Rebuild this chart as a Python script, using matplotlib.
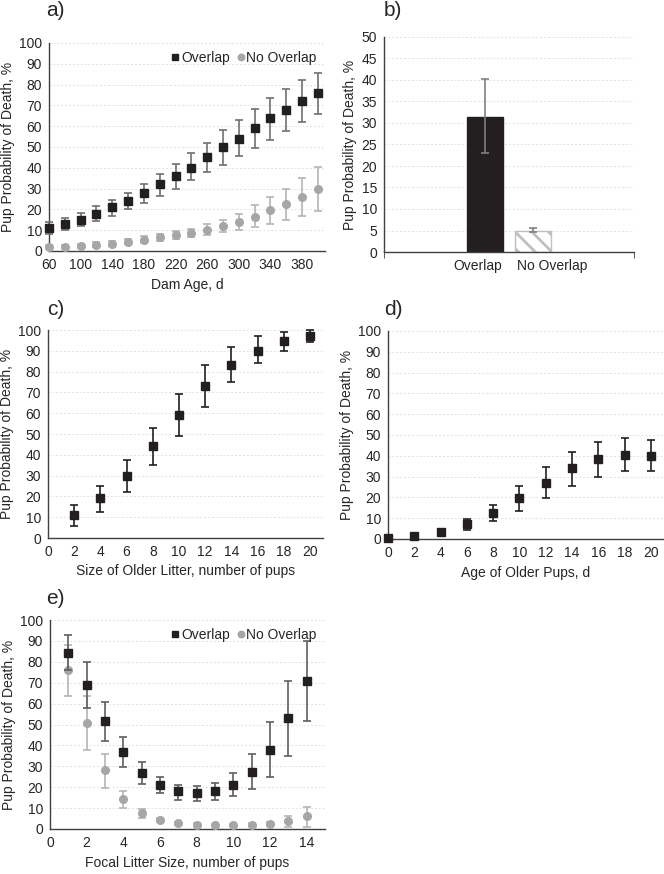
import numpy as np
import matplotlib
matplotlib.use("Agg")
import matplotlib.pyplot as plt

plt.rcParams['font.family'] = ['Liberation Sans', 'DejaVu Sans']
plt.rcParams['font.size'] = 10
plt.rcParams['hatch.linewidth'] = 2.0

# ---- data ----
# a) dam age
dam_age = [60, 80, 100, 120, 140, 160, 180, 200, 220, 240, 260, 280, 300, 320, 340, 360, 380, 400]
a_ov = [11, 13, 15, 18, 21, 24, 28, 32, 36, 40, 45, 50, 54, 59, 64, 68, 72, 76]
a_ov_lo = [8, 10, 12, 14.5, 17, 20, 23, 26.5, 30, 34, 38, 41.5, 45.5, 49.5, 53.5, 57.5, 62, 66]
a_ov_hi = [14, 16, 18.5, 21.5, 24.5, 28, 32, 37, 42, 47, 52, 58, 63, 68.5, 73.5, 78, 82, 85.5]
a_no = [2, 2, 2.5, 3, 3.5, 4.5, 5.5, 6.5, 7.5, 8.5, 10, 12, 14, 16.5, 19.5, 22.5, 26, 30]
a_no_lo = [1.2, 1.3, 1.6, 2, 2.5, 3.3, 4, 5, 5.8, 6.8, 7.5, 9, 10, 11.5, 13, 15, 17, 19]
a_no_hi = [2.8, 3, 3.5, 4.3, 5, 6, 7, 8.3, 9.5, 10.5, 13, 15, 18, 22, 26, 30, 35, 40.5]

# b) overlap vs no overlap
b_labels = ["Overlap", "No Overlap"]
b_vals = [31.5, 5.0]
b_lo = [23, 4.6]
b_hi = [40.3, 5.5]

# c) size of older litter
c_x = [2, 4, 6, 8, 10, 12, 14, 16, 18, 20]
c_y = [11, 19, 30, 44, 59, 73, 83, 90, 94.5, 97]
c_lo = [6, 12.5, 22, 35, 49, 63, 75, 84, 90, 94]
c_hi = [16, 25, 37.5, 53, 69, 83, 92, 97, 99, 100]

# d) age of older pups
d_x = [0, 2, 4, 6, 8, 10, 12, 14, 16, 18, 20]
d_y = [0.5, 1.5, 3.5, 7, 12.5, 19.5, 27, 34, 38.5, 40.5, 40]
d_lo = [0, 0.5, 2, 4.5, 8.5, 13.5, 19.5, 25.5, 30, 32.5, 32.5]
d_hi = [1, 2.5, 5, 9.5, 16.5, 25.5, 34.5, 42, 46.5, 48.5, 47.5]

# e) focal litter size
e_x = [1, 2, 3, 4, 5, 6, 7, 8, 9, 10, 11, 12, 13, 14]
e_ov = [84, 69, 51.5, 37, 27, 21, 18, 17, 18, 21, 27.5, 38, 53, 71]
e_ov_lo = [76, 58, 42, 29.5, 21.5, 17, 14, 13.5, 14, 16, 19, 25, 35, 51.5]
e_ov_hi = [93, 80, 61, 44, 32, 25, 21, 20.5, 22, 27, 36, 51, 71, 90]
e_no = [76, 50.5, 28, 14.5, 7.5, 4.5, 3, 2, 1.8, 1.8, 2, 2.5, 3.8, 6]
e_no_lo = [63.5, 38, 19.5, 10, 5.5, 3.5, 2, 1.5, 1.2, 1.2, 1.2, 1.5, 1, 1]
e_no_hi = [88, 63.5, 36, 18, 9.5, 5.5, 3.5, 2.7, 2.3, 2.3, 2.8, 3.5, 6, 10.5]

DARK = '#231f20'
LIGHT = '#a6a6a6'
TXT = '#262626'
YLAB = "Pup Probability of Death, %"
FS = 10
MS = 5.5
CAP = 3

W, H = 664, 874
fig = plt.figure(figsize=(W / 100, H / 100), dpi=100)


def make_ax(left, right, top, bottom):
    ax = fig.add_axes([left / W, 1 - bottom / H, (right - left) / W, (bottom - top) / H])
    for s in ['top', 'right']:
        ax.spines[s].set_visible(False)
    for s in ['left', 'bottom']:
        ax.spines[s].set_color('#404040')
        ax.spines[s].set_linewidth(1.0)
    ax.tick_params(length=0, colors=TXT, labelsize=FS, pad=5)
    ax.yaxis.grid(True, color='#e3e3e3', linestyle=(0, (2, 2)), linewidth=0.7)
    ax.set_axisbelow(True)
    ax.set_ylabel(YLAB, color=TXT, fontsize=FS, labelpad=3)
    return ax


def errs(y, lo, hi):
    y = np.array(y)
    return [y - np.array(lo), np.array(hi) - y]


def legend(ax, h, l):
    ax.legend(h, l, loc='upper right', frameon=False, ncol=2, handletextpad=0.1,
              handlelength=0.6, columnspacing=0.5, markerscale=0.85, fontsize=FS,
              borderaxespad=0.2, labelcolor=TXT)


# ---- a ----
ax = make_ax(49, 325, 43, 251)
ax.errorbar(dam_age, a_ov, yerr=errs(a_ov, a_ov_lo, a_ov_hi), fmt='s', color=DARK, ms=MS,
            ecolor='#6f6f6f', elinewidth=1.2, capsize=CAP, capthick=1.2, label='Overlap', zorder=3,
            clip_on=False)
ax.errorbar(dam_age, a_no, yerr=errs(a_no, a_no_lo, a_no_hi), fmt='o', color=LIGHT, ms=MS,
            ecolor='#b5b5b5', elinewidth=1.2, capsize=CAP, capthick=1.2, label='No Overlap', zorder=3,
            clip_on=False)
ax.set_xlim(60, 409)
ax.set_ylim(0, 100)
ax.set_yticks(range(0, 101, 10))
ax.set_xticks(range(60, 400, 40))
ax.set_xlabel("Dam Age, d", color=TXT, fontsize=FS, labelpad=4)
h, l = ax.get_legend_handles_labels()
legend(ax, [hh[0] for hh in h], l)

# ---- b ----
ax = make_ax(384, 634, 37, 252)
xb = [-0.19, 0.19]
ax.bar(xb[0], b_vals[0], width=0.29, color=DARK, edgecolor=DARK, zorder=2)
ax.bar(xb[1], b_vals[1], width=0.29, color='white', edgecolor='#bfbfbf', hatch='\\\\', linewidth=1, zorder=2)
ax.errorbar(xb, b_vals, yerr=errs(b_vals, b_lo, b_hi), fmt='none', ecolor='#808080',
            elinewidth=1.2, capsize=CAP, capthick=1.2, zorder=3)
ax.set_xlim(-1, 1)
ax.set_ylim(0, 50)
ax.set_yticks(range(0, 51, 5))
ax.set_xticks([-0.25, 0.345])
ax.set_xticklabels(b_labels)
ax.set_xticks([-1, 1], minor=True)
ax.tick_params(axis='x', which='minor', length=4, color='#404040')

# ---- c ----
ax = make_ax(48, 323, 330, 538)
ax.errorbar(c_x, c_y, yerr=errs(c_y, c_lo, c_hi), fmt='s', color=DARK, ms=MS,
            ecolor=DARK, elinewidth=1.2, capsize=CAP, capthick=1.2, zorder=3, clip_on=False)
ax.set_xlim(0, 21)
ax.set_ylim(0, 100)
ax.set_yticks(range(0, 101, 10))
ax.set_xticks(range(0, 21, 2))
ax.set_xlabel("Size of Older Litter, number of pups", color=TXT, fontsize=FS, labelpad=4)

# ---- d ----
ax = make_ax(388, 664, 331, 539)
ax.errorbar(d_x, d_y, yerr=errs(d_y, d_lo, d_hi), fmt='s', color=DARK, ms=MS,
            ecolor=DARK, elinewidth=1.2, capsize=CAP, capthick=1.2, zorder=3, clip_on=False)
ax.set_xlim(0, 21)
ax.set_ylim(0, 100)
ax.set_yticks(range(0, 101, 10))
ax.set_xticks(range(0, 21, 2))
ax.set_xlabel("Age of Older Pups, d", color=TXT, fontsize=FS, labelpad=4)

# ---- e ----
ax = make_ax(50, 325, 620, 829)
ax.errorbar(e_x, e_no, yerr=errs(e_no, e_no_lo, e_no_hi), fmt='o', color=LIGHT, ms=MS,
            ecolor='#b5b5b5', elinewidth=1.2, capsize=CAP, capthick=1.2, label='No Overlap', zorder=3)
ax.errorbar(e_x, e_ov, yerr=errs(e_ov, e_ov_lo, e_ov_hi), fmt='s', color=DARK, ms=MS,
            ecolor='#5f5f5f', elinewidth=1.2, capsize=CAP, capthick=1.2, label='Overlap', zorder=4)
ax.set_xlim(0, 15)
ax.set_ylim(0, 100)
ax.set_yticks(range(0, 101, 10))
ax.set_xticks(range(0, 15, 2))
ax.set_xlabel("Focal Litter Size, number of pups", color=TXT, fontsize=FS, labelpad=4)
h, l = ax.get_legend_handles_labels()
legend(ax, [h[1][0], h[0][0]], [l[1], l[0]])

# panel letters
for txt, x, y in [("a)", 46, 1), ("b)", 384, 1), ("c)", 47, 300), ("d)", 384, 300), ("e)", 46, 589)]:
    fig.text(x / W, 1 - y / H, txt, fontsize=15, color=TXT, va='top', ha='left')

fig.savefig("out.png", dpi=100)
